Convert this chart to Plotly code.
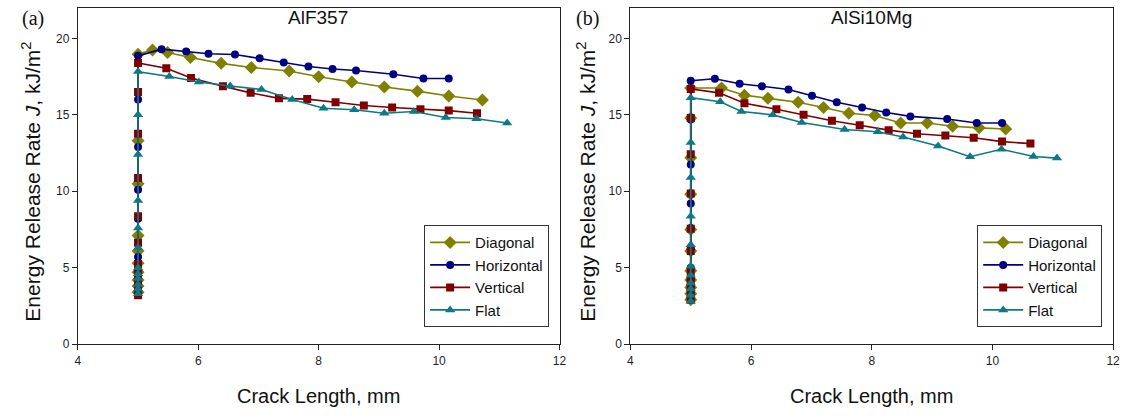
import plotly.graph_objects as go

# ---------------- data ----------------
series_names = ["Diagonal", "Horizontal", "Vertical", "Flat"]
series_colors = ["#808000", "#000080", "#800000", "#0b7a86"]
series_symbols = ["diamond", "circle", "square", "triangle-up"]
series_sizes = [10, 8, 8, 9]

x_ticks = [4, 6, 8, 10, 12]
y_ticks = [0, 5, 10, 15, 20]

# (a) AlF357
a_diag_x = [5.0, 5.0, 5.0, 5.0, 5.0, 5.0, 5.0, 5.0, 5.0, 5.0,
            5.24, 5.49, 5.87, 6.38, 6.88, 7.51, 8.0, 8.55, 9.09, 9.64, 10.16, 10.72]
a_diag_y = [3.4, 3.8, 4.2, 4.7, 5.3, 6.1, 7.1, 10.5, 13.3, 18.97,
            19.25, 19.08, 18.75, 18.37, 18.1, 17.87, 17.49, 17.15, 16.82, 16.55, 16.23, 15.97]

a_horz_x = [5.0, 5.0, 5.0, 5.0, 5.0, 5.0, 5.0, 5.0, 5.0, 5.0, 5.0,
            5.39, 5.80, 6.17, 6.61, 7.02, 7.42, 7.83, 8.23, 8.62, 9.24, 9.74, 10.16]
a_horz_y = [3.3, 3.7, 4.1, 4.6, 5.1, 5.7, 8.2, 10.1, 12.9, 16.0, 18.86,
            19.3, 19.14, 19.0, 18.95, 18.71, 18.43, 18.16, 18.0, 17.9, 17.66, 17.38, 17.38]

a_vert_x = [5.0, 5.0, 5.0, 5.0, 5.0, 5.0, 5.0, 5.0, 5.0, 5.0, 5.0, 5.0,
            5.47, 5.88, 6.41, 6.87, 7.34, 7.81, 8.28, 8.75, 9.22, 9.69, 10.16, 10.63]
a_vert_y = [3.2, 3.6, 4.0, 4.4, 4.8, 5.25, 6.64, 8.36, 10.87, 13.76, 16.5, 18.39,
            18.05, 17.41, 16.87, 16.44, 16.08, 16.03, 15.82, 15.61, 15.48, 15.37, 15.28, 15.11]

a_flat_x = [5.0, 5.0, 5.0, 5.0, 5.0, 5.0, 5.0, 5.0, 5.0, 5.0, 5.0, 5.0,
            5.52, 6.01, 6.53, 7.05, 7.56, 8.08, 8.59, 9.09, 9.58, 10.11, 10.62, 11.13]
a_flat_y = [3.3, 3.6, 3.9, 4.3, 4.6, 5.0, 6.3, 7.6, 9.4, 12.4, 15.0, 17.83,
            17.51, 17.15, 16.89, 16.66, 16.01, 15.43, 15.33, 15.11, 15.22, 14.83, 14.75, 14.47]

# (b) AlSi10Mg
b_diag_x = [5.0, 5.0, 5.0, 5.0, 5.0, 5.0, 5.0, 5.0, 5.0, 5.0, 5.0,
            5.51, 5.89, 6.28, 6.78, 7.2, 7.62, 8.05, 8.48, 8.92, 9.34, 9.78, 10.22]
b_diag_y = [2.9, 3.3, 3.7, 4.2, 4.8, 6.1, 7.5, 9.8, 12.2, 14.8, 16.76,
            16.76, 16.29, 16.08, 15.82, 15.48, 15.11, 14.96, 14.47, 14.47, 14.25, 14.15, 14.08]

b_horz_x = [5.0, 5.0, 5.0, 5.0, 5.0, 5.0, 5.0, 5.0, 5.0, 5.0, 5.0,
            5.4, 5.81, 6.18, 6.62, 7.01, 7.42, 7.84, 8.24, 8.64, 9.25, 9.74, 10.16]
b_horz_y = [3.0, 3.4, 3.8, 4.3, 5.0, 6.2, 7.6, 9.2, 11.75, 14.7, 17.23,
            17.36, 17.04, 16.87, 16.66, 16.25, 15.82, 15.48, 15.15, 14.9, 14.73, 14.47, 14.47]

b_vert_x = [5.0, 5.0, 5.0, 5.0, 5.0, 5.0, 5.0, 5.0, 5.0, 5.0, 5.0,
            5.47, 5.89, 6.42, 6.87, 7.34, 7.8, 8.28, 8.75, 9.22, 9.69, 10.16, 10.63]
b_vert_y = [2.9, 3.3, 3.7, 4.1, 4.7, 6.1, 7.55, 9.86, 12.43, 14.8, 16.7,
            16.44, 15.76, 15.37, 15.0, 14.62, 14.32, 14.0, 13.76, 13.65, 13.5, 13.25, 13.12]

b_flat_x = [5.0, 5.0, 5.0, 5.0, 5.0, 5.0, 5.0, 5.0, 5.0, 5.0, 5.0,
            5.49, 5.84, 6.36, 6.84, 7.55, 8.1, 8.52, 9.1, 9.63, 10.15, 10.68, 11.07]
b_flat_y = [2.8, 3.2, 3.6, 4.0, 4.5, 5.1, 6.5, 8.36, 10.9, 13.2, 16.12,
            15.86, 15.22, 15.0, 14.5, 14.04, 13.9, 13.55, 12.96, 12.26, 12.75, 12.28, 12.17]

panel_a = [(a_diag_x, a_diag_y), (a_horz_x, a_horz_y), (a_vert_x, a_vert_y), (a_flat_x, a_flat_y)]
panel_b = [(b_diag_x, b_diag_y), (b_horz_x, b_horz_y), (b_vert_x, b_vert_y), (b_flat_x, b_flat_y)]
panel_titles = ["AlF357", "AlSi10Mg"]
panel_letters = ["(a)", "(b)"]

# ---------------- figure ----------------
W, H = 1130, 418
fig = go.Figure()

for p, (panel, xa, ya, leg) in enumerate([(panel_a, "x", "y", "legend"),
                                            (panel_b, "x2", "y2", "legend2")]):
    for i, (xs, ys) in enumerate(panel):
        fig.add_trace(go.Scatter(
            x=xs, y=ys, mode="lines+markers", name=series_names[i],
            xaxis=xa, yaxis=ya, legend=leg,
            line=dict(color=series_colors[i], width=1.6),
            marker=dict(symbol=series_symbols[i], size=series_sizes[i],
                        color=series_colors[i], line=dict(width=0)),
        ))

def px_x(v):
    return v / W

def px_y(v):
    return 1 - v / H

dom_a = [px_x(75.5), px_x(561.5)]
dom_b = [px_x(633), px_x(1120)]
dom_y = [px_y(350), px_y(8)]

tickfont = dict(family="Liberation Sans", size=12, color="#1e1e2a")
axis_common = dict(showline=True, linecolor="#222", linewidth=1.2, mirror=True,
                   ticks="outside", ticklen=5, tickcolor="#222", showgrid=False,
                   zeroline=False, tickfont=tickfont, ticklabeloverflow="allow")

legend_common = dict(xanchor="right", yanchor="top",
                     bordercolor="#333", borderwidth=1, bgcolor="white",
                     font=dict(family="Liberation Sans", size=15, color="#111"),
                     tracegroupgap=0, itemwidth=40)

fig.update_layout(
    width=W, height=H,
    margin=dict(l=0, r=0, t=0, b=0),
    paper_bgcolor="white", plot_bgcolor="white",
    font=dict(family="Liberation Sans", color="#111"),
    xaxis=dict(domain=dom_a, range=[4, 12], tickvals=x_ticks, anchor="y", **axis_common),
    yaxis=dict(domain=dom_y, range=[0, 22], tickvals=y_ticks, anchor="x", **axis_common),
    xaxis2=dict(domain=dom_b, range=[4, 12], tickvals=x_ticks, anchor="y2", **axis_common),
    yaxis2=dict(domain=dom_y, range=[0, 22], tickvals=y_ticks, anchor="x2", **axis_common),
    legend=dict(x=px_x(551), y=px_y(229), **legend_common),
    legend2=dict(x=px_x(1109), y=px_y(229), **legend_common),
)

annotations = []
for k, (cx, lx) in enumerate([(318, 28), (876, 588)]):
    annotations.append(dict(text=panel_titles[k], x=px_x(cx), y=px_y(18), xref="paper", yref="paper",
                            showarrow=False, xanchor="center", yanchor="middle",
                            font=dict(family="Liberation Sans", size=19, color="#111")))
    annotations.append(dict(text="Crack Length, mm", x=px_x(cx), y=px_y(403), xref="paper", yref="paper",
                            showarrow=False, xanchor="center", yanchor="middle",
                            font=dict(family="Liberation Sans", size=20, color="#111")))
    annotations.append(dict(text="Energy Release Rate <i>J</i>, kJ/m<sup>2</sup>",
                            x=px_x(lx), y=px_y(185), xref="paper", yref="paper",
                            showarrow=False, xanchor="center", yanchor="middle", textangle=-90,
                            font=dict(family="Liberation Sans", size=21, color="#111")))
    annotations.append(dict(text=panel_letters[k], x=px_x(lx + 2), y=px_y(19), xref="paper", yref="paper",
                            showarrow=False, xanchor="center", yanchor="middle",
                            font=dict(family="Liberation Serif", size=20, color="#111")))
fig.update_layout(annotations=annotations)

# remove the browser's default 8px body margin so the figure sits at (0,0)
fig.write_html("out.html",
               config={"displayModeBar": False},
               post_script="document.body.style.margin='0px';document.body.style.overflow='hidden';")
